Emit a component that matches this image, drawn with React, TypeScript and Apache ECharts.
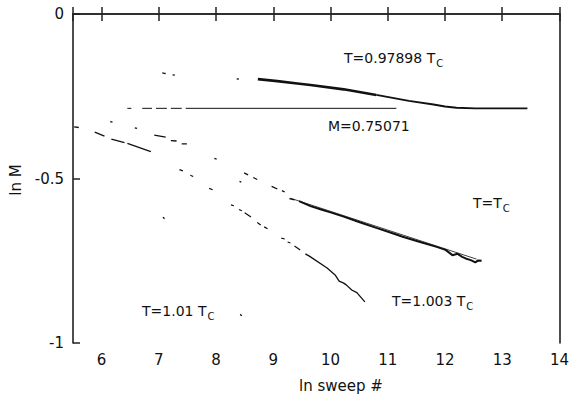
import React, { useEffect, useRef } from "react";
import * as echarts from "echarts";

// ---- data (x = ln sweep #, y = ln M) ----
const xTicks = [6, 7, 8, 9, 10, 11, 12, 13, 14];
const yTicks = [-1, -0.5, 0];

// T = 0.97898 Tc
const t0979Dashes: number[][][] = [
  [[7.06, -0.179], [7.12, -0.181]],
  [[7.24, -0.185], [7.28, -0.186]],
  [[8.36, -0.197], [8.4, -0.198]],
];
const t0979CurveEarly: number[][] = [
  [8.73, -0.198], [9.07, -0.204], [9.42, -0.211], [9.65, -0.216], [10.23, -0.229],
  [10.8, -0.246],
];
const t0979CurveLate: number[][] = [
  [10.8, -0.246], [11.37, -0.264], [11.8, -0.275], [12.0, -0.281], [12.2, -0.285],
  [12.53, -0.287], [13.44, -0.287],
];

// equilibrium magnetisation M = 0.75071
const mEq = 0.75071;
const mLineSegs: number[][] = [
  [6.45, 6.52], [6.71, 6.88], [6.95, 7.14], [7.21, 7.4], [7.47, 11.15],
];

// T = Tc
const tcDashes: number[][][] = [
  [[6.15, -0.327], [6.19, -0.329]],
  [[6.58, -0.346], [6.62, -0.348]],
  [[6.92, -0.368], [7.12, -0.374]],
  [[7.21, -0.385], [7.31, -0.386]],
  [[7.4, -0.395], [7.49, -0.395]],
  [[7.97, -0.439], [8.01, -0.441]],
  [[8.41, -0.509], [8.44, -0.511]],
  [[8.49, -0.483], [8.56, -0.489]],
  [[8.65, -0.497], [8.72, -0.503]],
  [[8.97, -0.524], [9.07, -0.532]],
  [[9.15, -0.537], [9.2, -0.541]],
  [[9.28, -0.561], [9.37, -0.565]],
];
const tcCurve: number[][] = [
  [9.45, -0.569], [9.65, -0.584], [9.85, -0.595], [10.0, -0.603], [10.23, -0.616],
  [10.51, -0.633], [10.8, -0.65], [11.11, -0.668], [11.26, -0.677], [11.55, -0.692],
  [11.84, -0.707], [12.01, -0.717], [12.13, -0.733], [12.22, -0.729], [12.3, -0.738],
  [12.36, -0.743], [12.45, -0.748], [12.53, -0.755], [12.58, -0.749], [12.64, -0.75],
];
const tcFit: number[][] = [[9.3, -0.56], [12.55, -0.745]];

// T = 1.003 Tc
const t1003Dashes: number[][][] = [
  [[7.36, -0.473], [7.42, -0.477]],
  [[7.55, -0.49], [7.6, -0.494]],
  [[7.88, -0.53], [7.94, -0.534]],
  [[8.26, -0.58], [8.31, -0.583]],
  [[8.4, -0.594], [8.45, -0.598]],
  [[8.5, -0.604], [8.61, -0.617]],
  [[8.72, -0.634], [8.78, -0.641]],
  [[8.84, -0.647], [8.9, -0.653]],
  [[9.14, -0.681], [9.2, -0.684]],
  [[9.25, -0.693], [9.3, -0.696]],
  [[9.37, -0.705], [9.47, -0.717]],
];
const t1003Curve: number[][] = [
  [9.56, -0.729], [9.63, -0.736], [9.94, -0.772], [10.08, -0.793], [10.15, -0.812],
  [10.23, -0.818], [10.28, -0.824], [10.37, -0.839], [10.46, -0.847], [10.6, -0.875],
];

// T = 1.01 Tc
const t101Dashes: number[][][] = [
  [[5.52, -0.343], [5.6, -0.345]],
  [[5.88, -0.359], [6.05, -0.371]],
  [[6.17, -0.38], [6.4, -0.391]],
  [[6.45, -0.393], [6.86, -0.418]],
  [[7.07, -0.618], [7.1, -0.622]],
  [[8.42, -0.913], [8.45, -0.917]],
];

const FONT = "DejaVu Sans";
const INK = "#111";

function joinSegs(segs: number[][][]): (number | string)[][] {
  const out: (number | string)[][] = [];
  segs.forEach((s, i) => {
    if (i > 0) out.push(["-", "-"]);
    s.forEach((p) => out.push(p));
  });
  return out;
}

function lineSeries(data: (number | string)[][], width: number) {
  return {
    type: "line",
    data,
    symbol: "none",
    connectNulls: false,
    silent: true,
    lineStyle: { color: INK, width },
  };
}

function subLabel(main: string, x: number, y: number) {
  return {
    type: "text",
    left: x,
    top: y,
    silent: true,
    style: {
      text: `{m|${main}}{s|C}`,
      rich: {
        m: { fontSize: 14, fontFamily: FONT, fill: INK, lineHeight: 20, verticalAlign: "middle" },
        s: { fontSize: 10, fontFamily: FONT, fill: INK, lineHeight: 20, verticalAlign: "bottom", padding: [0, 0, 0, 1] },
      },
    },
  };
}

export default function App() {
  const ref = useRef<HTMLDivElement>(null);
  useEffect(() => {
    if (!ref.current) return;
    const chart = echarts.init(ref.current, undefined, { renderer: "svg" });
    const lnM = Math.log(mEq);
    const axisLine = { show: true, lineStyle: { color: "#222", width: 1.6 } };
    const tick = { show: true, inside: true, length: 7, lineStyle: { color: "#222", width: 1.5 } };
    const xMin = 5.5;
    const xMax = 14;
    chart.setOption({
      animation: false,
      backgroundColor: "#fff",
      grid: { left: 73, right: 8, top: 14, bottom: 56, containLabel: false },
      xAxis: [
        {
          type: "value",
          min: xMin,
          max: xMax,
          splitNumber: 8,
          position: "bottom",
          axisLine,
          axisTick: tick,
          splitLine: { show: false },
          axisLabel: {
            color: INK,
            fontSize: 15,
            fontFamily: FONT,
            margin: 9,
            formatter: (v: number) => (xTicks.includes(v) ? String(v) : ""),
          },
        },
        {
          type: "value",
          min: xMin,
          max: xMax,
          splitNumber: 8,
          position: "top",
          axisLine,
          axisTick: tick,
          splitLine: { show: false },
          axisLabel: { show: false },
        },
      ],
      yAxis: [
        {
          type: "value",
          min: -1,
          max: 0,
          interval: 0.5,
          axisLine,
          axisTick: tick,
          splitLine: { show: false },
          axisLabel: {
            color: INK,
            fontSize: 15,
            fontFamily: FONT,
            margin: 9,
            formatter: (v: number) => (yTicks.includes(v) ? String(v) : ""),
          },
        },
        {
          type: "value",
          min: -1,
          max: 0,
          interval: 0.5,
          position: "right",
          axisLine,
          axisTick: { show: false },
          splitLine: { show: false },
          axisLabel: { show: false },
        },
      ],
      series: [
        lineSeries(joinSegs(t0979Dashes), 1.3),
        lineSeries(t0979CurveEarly, 2.6),
        lineSeries(t0979CurveLate, 1.9),
        lineSeries(joinSegs(mLineSegs.map(([a, b]) => [[a, lnM], [b, lnM]])), 1),
        lineSeries(joinSegs(tcDashes), 1.3),
        lineSeries(tcCurve, 2),
        lineSeries(tcFit, 0.8),
        lineSeries(joinSegs(t1003Dashes), 1.2),
        lineSeries(t1003Curve, 1.3),
        lineSeries(joinSegs(t101Dashes), 1.3),
      ],
      graphic: [
        subLabel("T=0.97898 T", 344, 51),
        {
          type: "text",
          left: 328,
          top: 119,
          silent: true,
          style: { text: "M=0.75071", fontSize: 14, fontFamily: FONT, fill: INK },
        },
        subLabel("T=T", 473, 196),
        subLabel("T=1.003 T", 392, 294),
        subLabel("T=1.01 T", 142, 304),
        {
          type: "text",
          left: 299,
          top: 378,
          silent: true,
          style: { text: "ln sweep #", fontSize: 15, fontFamily: FONT, fill: INK },
        },
        {
          type: "text",
          x: 16,
          y: 180,
          rotation: Math.PI / 2,
          silent: true,
          style: {
            text: "ln M",
            fontSize: 15,
            fontFamily: FONT,
            fill: INK,
            align: "center",
            verticalAlign: "middle",
          },
        },
      ],
    });
    return () => chart.dispose();
  }, []);
  return <div ref={ref} style={{ width: 572, height: 399, position: "fixed", left: 0, top: 0 }} />;
}
